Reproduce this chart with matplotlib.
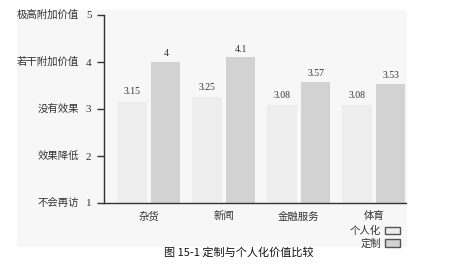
import numpy as np
import matplotlib
matplotlib.use("Agg")
import matplotlib.pyplot as plt
from matplotlib.patches import Rectangle, Patch

plt.rcParams['font.family'] = ['Liberation Serif', 'Noto Sans CJK SC']

categories = ['杂货', '新闻', '金融服务', '体育']
personalized = [3.15, 3.25, 3.08, 3.08]
customized = [4, 4.1, 3.57, 3.53]
series_names = ['个人化', '定制']
level_ticks = [1, 2, 3, 4, 5]
level_names = ['不会再访', '效果降低', '没有效果', '若干附加价值', '极高附加价值']
caption = '图 15-1 定制与个人化价值比较'

W, H = 459, 264
fig = plt.figure(figsize=(W / 100, H / 100), dpi=100)

# scanned page background
fig.patches.append(Rectangle((17 / W, 1 - 247 / H), (407 - 17) / W, (247 - 10) / H,
                             transform=fig.transFigure, facecolor='#f7f7f7',
                             edgecolor='none', zorder=-5))

ax = fig.add_axes([104 / W, 1 - 203 / H, (406 - 104) / W, (203 - 15) / H])
ax.set_zorder(2)
ax.patch.set_visible(False)

x = np.arange(len(categories))
w = 0.39
off = 0.225
c1, c2 = '#ededed', '#d2d2d2'
ax.bar(x - off, np.array(personalized) - 1, w, bottom=1, color=c1, zorder=2)
ax.bar(x + off, np.array(customized) - 1, w, bottom=1, color=c2, zorder=2)

for xi, v in zip(x - off, personalized):
    ax.text(xi, v + 0.12, f'{v:g}', ha='center', va='bottom', fontsize=7, color='#333333')
for xi, v in zip(x + off, customized):
    ax.text(xi, v + 0.08, f'{v:g}', ha='center', va='bottom', fontsize=7, color='#333333')

ax.set_xlim(-0.6, 3.43)
ax.set_ylim(1, 5)
ax.spines['top'].set_visible(False)
ax.spines['right'].set_visible(False)
for s in ('left', 'bottom'):
    ax.spines[s].set_color('#333333')
    ax.spines[s].set_linewidth(1.0)

ax.set_yticks(level_ticks)
ax.set_yticklabels([str(t) for t in level_ticks], fontsize=8, color='#333333')
ax.tick_params(axis='y', direction='out', length=5, width=1, color='#333333', pad=4)
ax.set_xticks(x)
ax.set_xticklabels(categories, fontsize=7.5, color='#333333')
ax.tick_params(axis='x', length=0, pad=6)

for t, name in zip(level_ticks, level_names):
    ax.text(-0.93, t, name, ha='right', va='center', fontsize=7.5, color='#333333',
            transform=ax.transData, clip_on=False)

handles = [Patch(facecolor=c1, edgecolor='#555555', linewidth=1),
           Patch(facecolor=c2, edgecolor='#555555', linewidth=1)]
fig.legend(handles, series_names, loc='upper right', bbox_to_anchor=(406 / W, 1 - 220 / H),
           frameon=False, markerfirst=False, fontsize=7.5, handlelength=1.4,
           handleheight=0.7, handletextpad=0.4, labelspacing=0.2, borderpad=0.1,
           labelcolor='#333333')

fig.text(239 / W, 1 - 252 / H, caption, ha='center', va='center', fontsize=8,
         family=['Noto Sans CJK SC', 'DejaVu Sans'], color='#111111')

fig.savefig('out.png', dpi=100, facecolor='white')
